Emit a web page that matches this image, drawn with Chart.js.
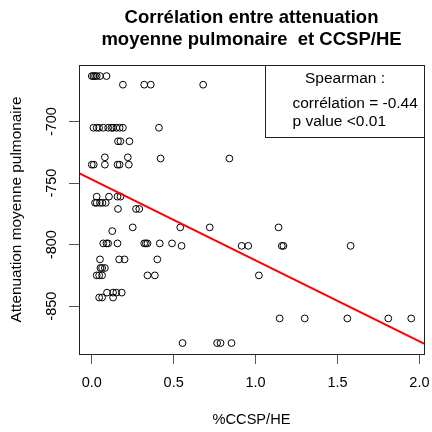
<!DOCTYPE html>
<html>
<head>
<meta charset="utf-8">
<script src="https://cdn.jsdelivr.net/npm/chart.js@4"></script>
<style>
  html, body { margin: 0; padding: 0; background: #fff; }
  #wrap { width: 432px; height: 432px; }
</style>
</head>
<body>
<div id="wrap"><canvas id="chart" width="432" height="432"></canvas></div>
<script>
// values
const ccspHe = [
  0.00, 0.01, 0.02, 0.03, 0.05, 0.09,
  0.19, 0.32, 0.36, 0.68,
  0.01, 0.03, 0.045, 0.07, 0.10, 0.12, 0.13, 0.15, 0.17, 0.19, 0.41,
  0.16, 0.175, 0.23,
  0.08, 0.22, 0.42, 0.84,
  0.00, 0.012, 0.08, 0.157, 0.17, 0.226,
  0.03, 0.105, 0.157, 0.175,
  0.02, 0.03, 0.05, 0.065, 0.085,
  0.16, 0.27, 0.29,
  0.125,
  0.25, 0.54, 0.72, 1.14,
  0.07, 0.09, 0.10, 0.157, 0.32, 0.33, 0.34, 0.415, 0.49,
  0.548, 0.915, 0.955, 1.16, 1.17, 1.58,
  0.05, 0.167, 0.20, 0.40,
  0.053, 0.063, 0.08,
  0.03, 0.045, 0.063, 0.34, 0.385, 1.02,
  0.093, 0.13, 0.15, 0.183,
  0.045, 0.063, 0.13,
  1.147, 1.30, 1.56, 1.81, 1.95,
  0.554, 0.765, 0.786, 0.853
];
const attenuation = [
  -663, -663, -663, -663, -663, -663,
  -670, -670, -670, -670,
  -705, -705, -705, -705, -705, -705, -705, -705, -705, -705, -705,
  -716, -716, -716,
  -729, -729, -730, -730,
  -735, -735, -735, -735, -735, -735,
  -761, -761, -761, -761,
  -766, -766, -766, -766, -766,
  -771, -771, -771,
  -789,
  -786, -786, -786, -786,
  -799, -799, -799, -799, -799, -799, -799, -799, -799,
  -801, -801, -801, -801, -801, -801,
  -812, -812, -812, -812,
  -819, -819, -819,
  -825, -825, -825, -825, -825, -825,
  -839, -839, -839, -839,
  -843, -843, -843,
  -860, -860, -860, -860, -860,
  -880, -880, -880, -880
];

// regression line (red)
const fitIntercept = -747.1;
const fitSlope = -65.8;

const xTicks = [0, 0.5, 1.0, 1.5, 2.0];
const yTicks = [-850, -800, -750, -700];
const xLimits = [-0.078, 2.028];
const yLimits = [-888.9, -654.0];

const titleLines = ["Corrélation entre attenuation", "moyenne pulmonaire  et CCSP/HE"];
const xTitle = "%CCSP/HE";
const yTitle = "Attenuation moyenne pulmonaire";
const noteTitle = "Spearman :";
const noteLines = ["corrélation = -0.44", "p value <0.01"];

Chart.defaults.font.family = "'Liberation Sans', Arial, sans-serif";
Chart.defaults.color = '#000';

const points = ccspHe.map((x, i) => ({ x: x, y: attenuation[i] }));
const fitLine = xLimits.map(x => ({ x: x, y: fitIntercept + fitSlope * x }));

// box around plot + spearman note in the top right corner
const framePlugin = {
  id: 'frame',
  afterDraw(chart) {
    const ctx = chart.ctx;
    const a = chart.chartArea;
    ctx.save();
    ctx.strokeStyle = '#222';
    ctx.lineWidth = 1;
    ctx.strokeRect(Math.round(a.left) + 0.5, Math.round(a.top) + 0.5,
                   Math.round(a.right - a.left), Math.round(a.bottom - a.top));

    const w = 159, h = 72;
    const bx = Math.round(a.right - w) + 0.5, by = Math.round(a.top) + 0.5;
    ctx.fillStyle = '#fff';
    ctx.fillRect(bx, by, w, h);
    ctx.strokeRect(bx, by, w, h);
    ctx.fillStyle = '#000';
    ctx.font = "15.5px 'Liberation Sans', Arial, sans-serif";
    ctx.textBaseline = 'middle';
    ctx.textAlign = 'center';
    ctx.fillText(noteTitle, bx + w / 2, by + 13);
    ctx.textAlign = 'left';
    noteLines.forEach((t, i) => ctx.fillText(t, bx + 27, by + 38 + i * 18));
    ctx.restore();
  }
};

new Chart(document.getElementById('chart'), {
  type: 'scatter',
  data: {
    datasets: [
      {
        type: 'line',
        data: fitLine,
        borderColor: '#ff0000',
        borderWidth: 2,
        pointRadius: 0,
        fill: false,
        order: 0
      },
      {
        data: points,
        pointStyle: 'circle',
        pointRadius: 3.4,
        pointBorderWidth: 1,
        pointBorderColor: '#000',
        pointBackgroundColor: 'rgba(0,0,0,0)',
        order: 1
      }
    ]
  },
  options: {
    responsive: false,
    animation: false,
    layout: { padding: { left: 0, right: 8, top: 0, bottom: 0 } },
    plugins: {
      legend: { display: false },
      tooltip: { enabled: false },
      title: {
        display: true,
        text: titleLines,
        fullSize: false,
        color: '#000',
        font: { size: 18.5, weight: 'bold', lineHeight: 1.2 },
        padding: { top: 7, bottom: 13.6 }
      }
    },
    scales: {
      x: {
        type: 'linear',
        min: xLimits[0],
        max: xLimits[1],
        afterBuildTicks: s => { s.ticks = xTicks.map(v => ({ value: v })); },
        afterFit: s => { s.height = 78; s.paddingLeft = 0; s.paddingRight = 0; },
        grid: { drawOnChartArea: false, drawTicks: true, tickLength: 10, color: '#555' },
        border: { display: false },
        ticks: { font: { size: 14.5 }, padding: 10, maxRotation: 0, callback: v => v.toFixed(1) },
        title: { display: true, text: xTitle, font: { size: 14.6 }, padding: { top: 0, bottom: 3 } }
      },
      y: {
        type: 'linear',
        min: yLimits[0],
        max: yLimits[1],
        afterBuildTicks: s => { s.ticks = yTicks.map(v => ({ value: v })); },
        afterFit: s => { s.width = 79; s.paddingTop = 0; s.paddingBottom = 0; },
        grid: { drawOnChartArea: false, drawTicks: true, tickLength: 10, color: '#555' },
        border: { display: false },
        ticks: { font: { size: 14.5 }, padding: 2, minRotation: 90, maxRotation: 90, crossAlign: 'center' },
        title: { display: true, text: yTitle, font: { size: 15.4 }, padding: { top: 8, bottom: 0 } }
      }
    }
  },
  plugins: [framePlugin]
});
</script>
</body>
</html>
